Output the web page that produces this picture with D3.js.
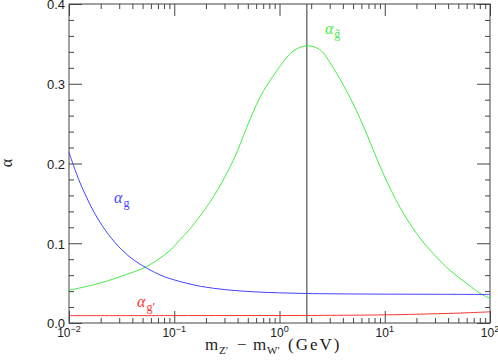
<!DOCTYPE html>
<html><head><meta charset="utf-8">
<script src="https://cdn.jsdelivr.net/npm/d3@7"></script>
<style>
html,body{margin:0;padding:0;background:#fff;}
svg{display:block;}
text{fill:#222;}
</style></head>
<body>
<svg id="c" width="498" height="364"></svg>
<script>
// ---- data ----
const greenX = [0.01, 0.0197, 0.0353, 0.054, 0.0912, 0.1135, 0.141, 0.235, 0.364, 0.488, 0.653, 0.94, 1.35, 1.82, 2.4, 3.24, 5.02, 6.73, 9.7, 13.96, 20.1, 28.9, 41.7, 60.1, 83.2, 100];
const greenY = [0.041, 0.050, 0.061, 0.0704, 0.091, 0.1046, 0.118, 0.158, 0.204, 0.245, 0.283, 0.316, 0.341, 0.3475, 0.343, 0.320, 0.2746, 0.237, 0.187, 0.145, 0.112, 0.087, 0.066, 0.0496, 0.036, 0.031];
const blueX = [0.01, 0.0115, 0.0133, 0.0178, 0.0237, 0.0316, 0.0422, 0.0562, 0.075, 0.1, 0.178, 0.316, 0.562, 1, 1.78, 3.16, 10, 31.6, 100];
const blueY = [0.214, 0.191, 0.170, 0.136, 0.111, 0.092, 0.078, 0.068, 0.0597, 0.054, 0.046, 0.0416, 0.0392, 0.0378, 0.037, 0.0366, 0.0362, 0.036, 0.0358];
const redX = [0.01, 0.1, 1, 3, 10, 20, 50, 100];
const redY = [0.0092, 0.0093, 0.0094, 0.0096, 0.0102, 0.0110, 0.0124, 0.0140];
const markerX = [1.82];
const xMajorTicks = [0.01, 0.1, 1, 10, 100];
const xTickExp = ["\u22122", "\u22121", "0", "1", "2"];
const yMajorTicks = [0, 0.1, 0.2, 0.3, 0.4];
const yMinorTicks = [0.02, 0.04, 0.06, 0.08, 0.12, 0.14, 0.16, 0.18, 0.22, 0.24, 0.26, 0.28, 0.32, 0.34, 0.36, 0.38];

// ---- scales ----
const svg = d3.select("#c");
const x = d3.scaleLog().domain([0.01, 100]).range([69, 490]);
const y = d3.scaleLinear().domain([0, 0.4]).range([323, 4]);
const axisColor = "#444";

// minor x ticks
const xMinor = [];
for (let e = -2; e < 2; e++) for (let k = 2; k <= 9; k++) xMinor.push(k * Math.pow(10, e));

function styleAxis(g) {
  g.select(".domain").remove();
  g.selectAll(".tick line").attr("stroke", axisColor);
}

// bottom
svg.append("g").attr("transform", "translate(0,323)")
  .call(d3.axisBottom(x).tickValues(xMajorTicks).tickSize(-12).tickFormat(""))
  .call(styleAxis).selectAll("text").remove();
svg.append("g").attr("transform", "translate(0,323)")
  .call(d3.axisBottom(x).tickValues(xMinor).tickSize(-5).tickFormat(""))
  .call(styleAxis).selectAll("text").remove();
// top
svg.append("g").attr("transform", "translate(0,4)")
  .call(d3.axisTop(x).tickValues(xMajorTicks).tickSize(-12).tickFormat(""))
  .call(styleAxis).selectAll("text").remove();
svg.append("g").attr("transform", "translate(0,4)")
  .call(d3.axisTop(x).tickValues(xMinor).tickSize(-5).tickFormat(""))
  .call(styleAxis).selectAll("text").remove();
// left
const gl = svg.append("g").attr("transform", "translate(69,0)")
  .call(d3.axisLeft(y).tickValues(yMajorTicks).tickSize(-13).tickPadding(4).tickFormat(d3.format(".1f")))
  .call(styleAxis);
gl.selectAll("text").attr("font-family", "Liberation Sans, Arial, sans-serif").attr("font-size", 13).attr("fill", "#222").attr("dy", "0.38em");
svg.append("g").attr("transform", "translate(69,0)")
  .call(d3.axisLeft(y).tickValues(yMinorTicks).tickSize(-5).tickFormat(""))
  .call(styleAxis).selectAll("text").remove();
// right
svg.append("g").attr("transform", "translate(490,0)")
  .call(d3.axisRight(y).tickValues(yMajorTicks).tickSize(-13).tickFormat(""))
  .call(styleAxis).selectAll("text").remove();
svg.append("g").attr("transform", "translate(490,0)")
  .call(d3.axisRight(y).tickValues(yMinorTicks).tickSize(-5).tickFormat(""))
  .call(styleAxis).selectAll("text").remove();

// frame
svg.append("rect").attr("x", 69).attr("y", 4).attr("width", 421).attr("height", 319)
  .attr("fill", "none").attr("stroke", axisColor).attr("stroke-width", 1);

// x tick labels with superscripts
const xl = svg.append("g").attr("font-family", "Liberation Sans, Arial, sans-serif");
xMajorTicks.forEach((v, i) => {
  const t = xl.append("text").attr("x", x(v)).attr("y", 337).attr("text-anchor", "middle").attr("font-size", 12);
  t.append("tspan").text("10");
  t.append("tspan").attr("font-size", 9).attr("dy", -5).text(xTickExp[i]);
});

// vertical marker line
svg.selectAll(".marker").data(markerX).enter().append("line")
  .attr("x1", d => x(d)).attr("x2", d => x(d)).attr("y1", 4).attr("y2", 323)
  .attr("stroke", "#333").attr("stroke-width", 1);

// curves
const line = (xs, ys) => d3.line().x((d, i) => x(xs[i])).y((d, i) => y(ys[i])).curve(d3.curveCatmullRom.alpha(0.5))(ys);
svg.append("path").attr("d", line(greenX, greenY)).attr("fill", "none").attr("stroke", "#44ee44").attr("stroke-width", 1);
svg.append("path").attr("d", line(blueX, blueY)).attr("fill", "none").attr("stroke", "#4444ff").attr("stroke-width", 1);
svg.append("path").attr("d", line(redX, redY)).attr("fill", "none").attr("stroke", "#ff3333").attr("stroke-width", 1);

// curve labels
function curveLabel(xv, yv, sub, color) {
  const t = svg.append("text").attr("x", x(xv)).attr("y", y(yv))
    .attr("font-family", "Liberation Serif, Times New Roman, serif").attr("fill", color);
  t.append("tspan").attr("font-size", 16).attr("font-style", "italic").attr("fill", color).text("\u03b1");
  t.append("tspan").attr("font-size", 12).attr("dy", 4).attr("dx", 1).attr("fill", color).text(sub);
}
curveLabel(2.7, 0.362, "g\u0303", "#44ee44");
curveLabel(0.0268, 0.150, "g", "#4444ff");
curveLabel(0.0443, 0.020, "g\u2032", "#ff3333");

// y axis label
svg.append("text").attr("transform", "translate(12,163) rotate(-90)").attr("text-anchor", "middle")
  .attr("font-family", "Liberation Serif, Times New Roman, serif").attr("font-size", 16).text("\u03b1");

// x axis title
const tf = "Liberation Serif, Times New Roman, serif";
const tt = svg.append("g").attr("font-family", tf).attr("fill", "#222");
tt.append("text").attr("x", 205).attr("y", 350).attr("font-size", 17).text("m");
tt.append("text").attr("x", 219).attr("y", 354).attr("font-size", 11).text("Z\u2032");
tt.append("text").attr("x", 237).attr("y", 350).attr("font-size", 17).text("\u2212");
tt.append("text").attr("x", 253).attr("y", 350).attr("font-size", 17).text("m");
tt.append("text").attr("x", 267).attr("y", 354).attr("font-size", 11).text("W\u2032");
tt.append("text").attr("x", 288).attr("y", 350).attr("font-size", 17).attr("letter-spacing", 2).text("(GeV)");
</script>
</body></html>
